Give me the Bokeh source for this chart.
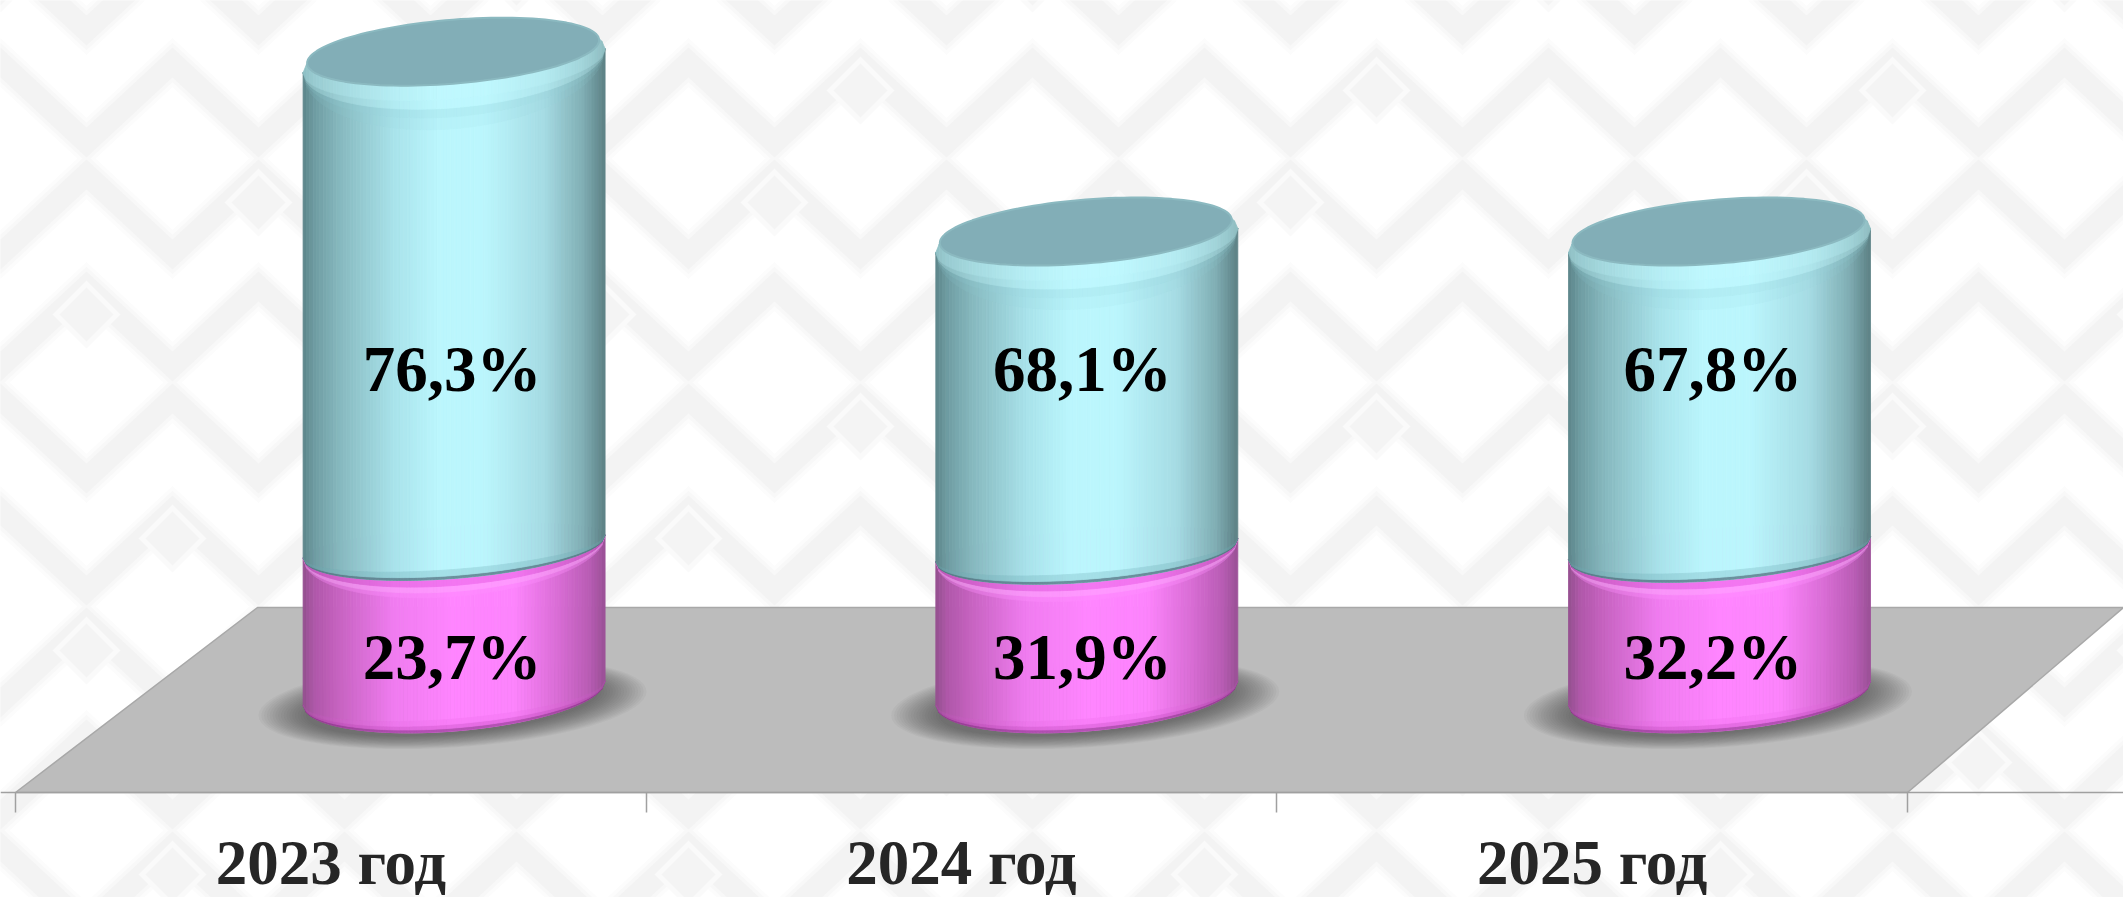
import math
from bokeh.plotting import figure
from bokeh.models import Range1d, LinearAxis, FixedTicker
from bokeh.core.properties import value
from bokeh.embed import file_html
from bokeh.resources import INLINE

# ---- data ----
years = ["2023 год", "2024 год", "2025 год"]
pink_labels = ["23,7%", "31,9%", "32,2%"]
blue_labels = ["76,3%", "68,1%", "67,8%"]
pink_heights = [22.9, 22.3, 22.6]
blue_heights = [75.9, 48.4, 48.1]

# ---- layout constants ----
W, H = 2123, 897
BAND = 630.67      # px per category
K = 6.4            # px per value unit
PX0 = 15           # page x of category 0 edge
PY0 = 692.5        # page y of value 0
def X(px): return (px - PX0) / BAND
def Y(py): return (PY0 - py) / K

p = figure(width=W, height=H, x_axis_type=None, y_axis_type=None, toolbar_location=None,
           output_backend="svg", min_border=0,
           x_range=Range1d(X(0), X(W)), y_range=Range1d(Y(H), Y(0)))
p.grid.visible = False
p.outline_line_color = None
p.background_fill_color = "#ffffff"
p.border_fill_color = "#ffffff"

# ---- faint woven background ----
PERIOD, AMP, STEP = 172, 80, 112
def chevrons():
    xs, ys = [], []
    row = 0
    y0 = -50
    while y0 < 960:
        shift = ((row // 2) % 2) * PERIOD / 2
        px, py = [], []
        x = -PERIOD + shift
        up = True
        while x < 2300:
            px.append(x); py.append(y0 + (0 if up else AMP))
            up = not up
            x += PERIOD / 2
        xs.append([X(v) for v in px]); ys.append([Y(v) for v in py])
        y0 += STEP
        row += 1
    return xs, ys
bx, by = chevrons()
for width, col in [(36, "#fcfcfc"), (29, "#f8f8f8"), (22, "#f3f3f3")]:
    p.multi_line(bx, by, line_color=col, line_width=width, line_join="miter")

# small diamonds sitting in the alternating gaps of the weave
for rad, col in [(34, "#fafafa"), (27, "#f4f4f4")]:
    dia_x, dia_y = [], []
    for r in range(0, 9):
        yc = -50 + r * STEP + 28
        for c in range(-1, 14):
            if (r + c) % 3 == 0:
                xc = c * PERIOD + ((r // 2) % 2) * PERIOD / 2
                dia_x.append([X(xc + d) for d in (-rad, 0, rad, 0)])
                dia_y.append([Y(yc + d) for d in (0, -rad, 0, rad)])
    p.patches(dia_x, dia_y, fill_color=col, line_color=None)

# ---- floor ----
FL_L, FL_R, BK_L, BK_R = 15, 1907, 257, 2123
FL_Y, BK_Y = 792, 607
p.patch([X(FL_L), X(FL_R), X(BK_R), X(BK_L)], [Y(FL_Y), Y(FL_Y), Y(BK_Y), Y(BK_Y)],
        fill_color="#bcbcbc", line_color="#a8a8a8", line_width=1.5)

def hexrgb(c):
    return tuple(int(c[i:i + 2], 16) for i in (1, 3, 5))
def tohex(c):
    return "#%02x%02x%02x" % tuple(max(0, min(255, int(round(v)))) for v in c)
def grad(t, stops):
    for (a, ca), (b, cb) in zip(stops, stops[1:]):
        if t <= b:
            f = (t - a) / (b - a)
            A, B = hexrgb(ca), hexrgb(cb)
            return tuple(A[i] + (B[i] - A[i]) * f for i in range(3))
    return hexrgb(stops[-1][1])
def mix(c, other, f):
    return tuple(c[i] + (other[i] - c[i]) * f for i in range(3))

BLUE = [(0, "#5d8589"), (.04, "#6f9da3"), (.12, "#86b8be"), (.3, "#a8e2ea"), (.45, "#bbf6fd"),
        (.6, "#bbf6fd"), (.8, "#a5dbe3"), (.93, "#7fadb3"), (1, "#5c8084")]
PINK = [(0, "#93508e"), (.04, "#b058aa"), (.12, "#c763c1"), (.3, "#f07cf0"), (.5, "#ff85ff"),
        (.7, "#fd84fd"), (.85, "#d86cd4"), (.95, "#b85cb4"), (1, "#9a5096")]

R = 151.0
N = 90
polys_x, polys_y, polys_c = [], [], []
def band(cx, low, high, col):
    for i in range(N):
        u0 = -1 + 2 * i / N
        u1 = -1 + 2 * (i + 1) / N
        um = (u0 + u1) / 2
        t = (um + 1) / 2
        xs = [X(cx + R * u0), X(cx + R * u1), X(cx + R * u1), X(cx + R * u0)]
        ys = [Y(low(u0)), Y(low(u1)), Y(high(u1)), Y(high(u0))]
        polys_x.append(xs); polys_y.append(ys); polys_c.append(tohex(col(t)))

def front(cy, b, sh):
    return lambda u: cy - sh * u + b * math.sqrt(max(0, 1 - u * u))
def back(cy, b, sh):
    return lambda u: cy - sh * u - b * math.sqrt(max(0, 1 - u * u))
def shifted(f, d):
    return lambda u: f(u) + d * math.sqrt(max(0, 1 - u * u))

# ---- soft shadows ----
for i in range(3):
    cx = 452 + i * 632.7
    for j in range(18):
        rx = 194 - j * 2.8
        ry = 44 - j * 0.8
        xs, ys = [], []
        for a in range(73):
            th = a / 72 * 2 * math.pi
            xs.append(X(cx + rx * math.cos(th)))
            ys.append(Y(703 - 12 * math.cos(th) + ry * math.sin(th)))
        p.patch(xs, ys, fill_color="#303030", fill_alpha=0.04, line_color=None)

# ---- stacked cylinders ----
for i in range(3):
    cx = 453.6 + i * 632.7
    base = PY0
    split = PY0 - pink_heights[i] * K
    top = split - blue_heights[i] * K

    # pink part
    pf = front(base, 38, 12)
    sf = front(split, 32, 11.5)
    up = back(split, 20, 11.5)
    band(cx, pf, up, lambda t: grad(t, PINK))
    band(cx, shifted(pf, 0), shifted(pf, -3), lambda t: mix(grad(t, PINK), (120, 40, 120), .55))
    band(cx, shifted(pf, -3), shifted(pf, -7), lambda t: mix(grad(t, PINK), (185, 65, 180), .35))
    band(cx, shifted(pf, -7), shifted(pf, -12), lambda t: mix(grad(t, PINK), (215, 90, 210), .15))
    band(cx, shifted(sf, 18), shifted(sf, 13), lambda t: mix(grad(t, PINK), (255, 145, 255), .35))
    band(cx, shifted(sf, 13), shifted(sf, 7), lambda t: mix(grad(t, PINK), (255, 165, 255), .6))
    band(cx, shifted(sf, 7), shifted(sf, 0), lambda t: mix(grad(t, PINK), (225, 95, 220), .4))

    # blue part
    tf = front(top, 38, 12)
    tb = back(top, 38, 12)
    band(cx, sf, tf, lambda t: grad(t, BLUE))
    band(cx, shifted(sf, 0), shifted(sf, -3), lambda t: mix(grad(t, BLUE), (80, 110, 125), .75))
    band(cx, shifted(sf, -3), shifted(sf, -9), lambda t: mix(grad(t, BLUE), (110, 170, 180), .3))
    # rim and cap
    band(cx, shifted(tf, 30), shifted(tf, 18), lambda t: mix(grad(t, BLUE), (150, 210, 218), .12))
    band(cx, shifted(tf, 18), shifted(tf, 9), lambda t: mix(grad(t, BLUE), (150, 210, 218), .25))
    band(cx, shifted(tf, 9), tf, lambda t: mix(grad(t, BLUE), (195, 250, 255), .35))
    band(cx, tf, tb, lambda t: mix(grad(t, BLUE), (195, 250, 255), .5))

p.patches(polys_x, polys_y, fill_color=polys_c, line_color=polys_c, line_width=0.8)

# cap top faces
cap_x, cap_y = [], []
for i in range(3):
    cx = 453.6 + i * 632.7
    top = PY0 - (pink_heights[i] + blue_heights[i]) * K
    xs, ys = [], []
    for a in range(121):
        th = a / 120 * 2 * math.pi
        xs.append(X(cx - 1 + 146 * math.cos(th)))
        ys.append(Y(top - 9 - 11.5 * math.cos(th) + 32 * math.sin(th)))
    cap_x.append(xs); cap_y.append(ys)
p.patches(cap_x, cap_y, fill_color="#82aeb7", line_color="#8bb9c0", line_width=2)

# ---- value labels ----
label_x = [X(451.5 + i * 630.4) for i in range(3)]
lab = dict(text_font=value("Liberation Serif"), text_font_style="bold", text_font_size="65px",
           text_color="#000000", text_align="center", text_baseline="middle")
p.text(label_x, [Y(368)] * 3, text=blue_labels, **lab)
p.text(label_x, [Y(656)] * 3, text=pink_labels, **lab)

# ---- axis: tick marks (minor) and category labels (major) ----
ax = LinearAxis(ticker=FixedTicker(ticks=[0.5, 1.5, 2.5], minor_ticks=[0, 1, 2, 3]), fixed_location=Y(FL_Y),
                major_label_overrides={0.5: years[0], 1.5: years[1], 2.5: years[2]},
                major_label_text_font="Liberation Serif", major_label_text_font_style="bold",
                major_label_text_font_size="63px", major_label_text_color="#262626",
                major_label_standoff=15, major_tick_line_color=None, major_tick_out=0, major_tick_in=0,
                minor_tick_out=20, minor_tick_in=0, minor_tick_line_color="#a0a0a0", minor_tick_line_width=1.5,
                axis_line_color="#a0a0a0", axis_line_width=1.5)
p.add_layout(ax, "below")

open("out.html", "w").write(file_html(p, INLINE))
